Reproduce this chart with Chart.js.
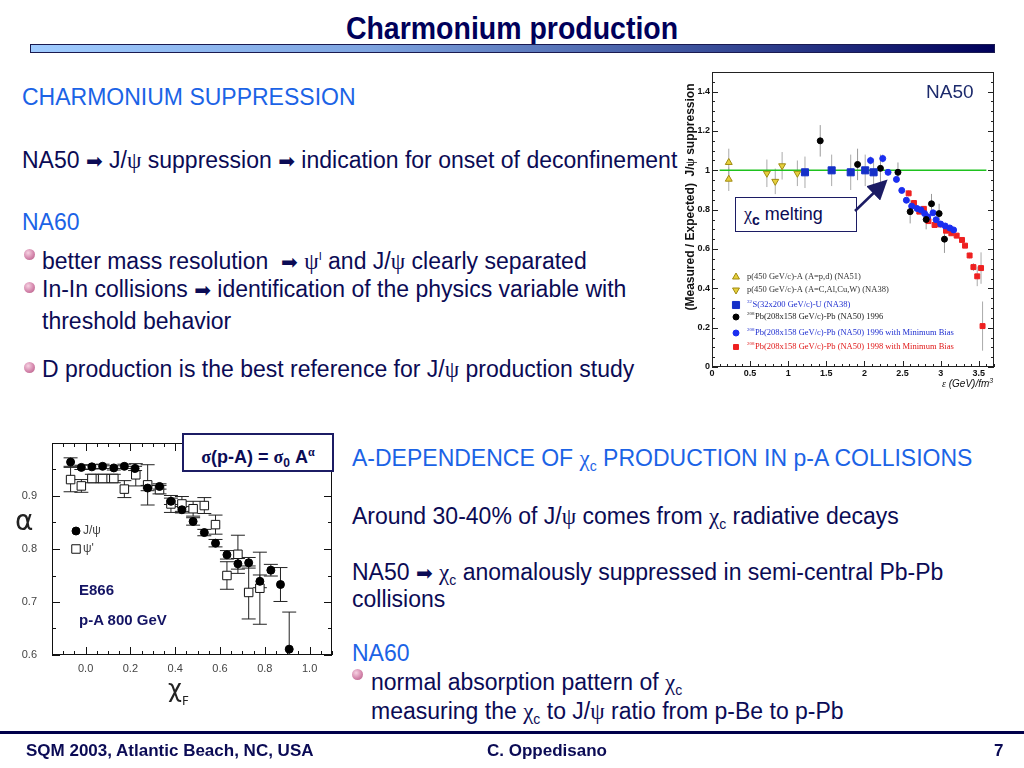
<!DOCTYPE html>
<html>
<head>
<meta charset="utf-8">
<script src="https://cdn.jsdelivr.net/npm/chart.js@4.4.0/dist/chart.umd.min.js"></script>
<style>
  body { margin:0; width:1024px; height:768px; background:#fff; position:relative; overflow:hidden;
         font-family:"Liberation Sans", Arial, sans-serif; }
  .abs { position:absolute; white-space:nowrap; line-height:26px; }
  .navy { color:#0b0b55; }
  .blue { color:#1b63e6; }
  .t20 { font-size:23px; }
  .sym { font-family:"Liberation Serif", "DejaVu Serif", serif; }
  .arr { font-family:"DejaVu Sans", sans-serif; font-size:20px; color:#0b0b55; }
  .sub { font-size:14px; position:relative; top:5px; }
  .ball { position:absolute; width:11px; height:11px; border-radius:50%;
          background:radial-gradient(circle at 38% 35%, #f6d2e2, #d486ac 55%, #b0587f); }
  .box { position:absolute; background:#fff; border:2px solid #1c1c64; box-sizing:border-box; }
</style>
</head>
<body>

<!-- titolo -->
<div class="abs" style="left:0;top:12px;width:1024px;text-align:center;font-weight:bold;font-size:32px;line-height:32px;color:#00005a;transform:scaleX(0.89);">Charmonium production</div>
<div style="position:absolute;left:30px;top:44px;width:965px;height:9px;border:1px solid #1a1a50;box-sizing:border-box;background:linear-gradient(to right,#a0ccff 0%,#7ea4e0 35%,#3a4f9a 70%,#00005a 100%);"></div>

<!-- testo sinistra -->
<div class="abs t20 blue" style="left:22px;top:84px;">CHARMONIUM SUPPRESSION</div>
<div class="abs t20 navy" style="left:22px;top:147px;">NA50 <span class="arr">➡</span> J/<span class="sym">ψ</span> suppression <span class="arr">➡</span> indication for onset of deconfinement</div>
<div class="abs t20 blue" style="left:22px;top:209px;">NA60</div>
<div class="ball" style="left:24px;top:249px;"></div>
<div class="abs t20 navy" style="left:42px;top:243px;">better mass resolution &nbsp;<span class="arr">➡</span> <span class="sym">ψ</span><sup style="font-size:11px;">I</sup> and J/<span class="sym">ψ</span> clearly separated</div>
<div class="ball" style="left:24px;top:282px;"></div>
<div class="abs t20 navy" style="left:42px;top:276px;">In-In collisions <span class="arr">➡</span> identification of the physics variable with</div>
<div class="abs t20 navy" style="left:42px;top:308px;">threshold behavior</div>
<div class="ball" style="left:24px;top:362px;"></div>
<div class="abs t20 navy" style="left:42px;top:356px;">D production is the best reference for J/<span class="sym">ψ</span> production study</div>

<!-- testo destra -->
<div class="abs t20 blue" style="left:352px;top:445px;">A-DEPENDENCE OF <span class="sym">χ</span><span class="sub">c</span> PRODUCTION IN p-A COLLISIONS</div>
<div class="abs t20 navy" style="left:352px;top:503px;">Around 30-40% of J/<span class="sym">ψ</span> comes from <span class="sym">χ</span><span class="sub">c</span> radiative decays</div>
<div class="abs t20 navy" style="left:352px;top:559px;">NA50 <span class="arr">➡</span> <span class="sym">χ</span><span class="sub">c</span> anomalously suppressed in semi-central Pb-Pb</div>
<div class="abs t20 navy" style="left:352px;top:586px;">collisions</div>
<div class="abs t20 blue" style="left:352px;top:640px;">NA60</div>
<div class="ball" style="left:352px;top:669px;"></div>
<div class="abs t20 navy" style="left:371px;top:669px;">normal absorption pattern of <span class="sym">χ</span><span class="sub">c</span></div>
<div class="abs t20 navy" style="left:371px;top:698px;">measuring the <span class="sym">χ</span><span class="sub">c</span> to J/<span class="sym">ψ</span> ratio from p-Be to p-Pb</div>

<!-- grafico NA50 -->
<div style="position:absolute;left:683px;top:66px;width:317px;height:316px;">
  <canvas id="graficoNA50" width="317" height="316"></canvas>
</div>
<div class="abs" style="left:565px;top:190px;width:250px;text-align:center;transform:rotate(-90deg);font-size:12px;font-weight:bold;line-height:14px;color:#111;">(Measured / Expected)&nbsp; J/<span class="sym">ψ</span> suppression</div>
<div class="abs" style="left:942px;top:375px;font-size:10px;line-height:12px;font-style:italic;color:#111;"><span class="sym">ε</span> (GeV)/fm<sup style="font-size:7px;">3</sup></div>
<div class="abs" style="left:926px;top:81px;font-size:19px;line-height:22px;color:#1c2a6c;">NA50</div>
<div class="box" style="left:735px;top:197px;width:122px;height:35px;border-width:1.5px;"></div>
<div class="abs navy" style="left:744px;top:201px;font-size:18px;"><span class="sym">χ</span><span class="sub" style="font-weight:bold;">c</span> melting</div>
<svg style="position:absolute;left:0;top:0;" width="1024" height="768">
  <defs><marker id="punta" markerWidth="8" markerHeight="8" refX="6" refY="4" orient="auto">
    <path d="M0,0 L8,4 L0,8 z" fill="#1c1c64"/></marker></defs>
  <line x1="855" y1="211" x2="884" y2="183" stroke="#1c1c64" stroke-width="2.5" marker-end="url(#punta)"/>
</svg>

<!-- grafico E866 -->
<div style="position:absolute;left:10px;top:435px;width:330px;height:245px;">
  <canvas id="graficoE866" width="330" height="245"></canvas>
</div>
<div class="abs" style="left:15px;top:506px;font-size:28px;line-height:30px;color:#222;font-family:'DejaVu Sans',sans-serif;">α</div>
<div class="abs" style="left:168px;top:676px;font-size:24px;line-height:26px;color:#222;font-family:'DejaVu Sans',sans-serif;">χ<span style="font-size:12px;position:relative;top:8px;">F</span></div>
<div class="abs" style="left:79px;top:577px;font-size:15px;font-weight:bold;color:#141464;">E866</div>
<div class="abs" style="left:79px;top:607px;font-size:15px;font-weight:bold;color:#141464;">p-A 800 GeV</div>
<div class="box" style="left:182px;top:433px;width:152px;height:39px;"></div>
<div class="abs" style="left:182px;top:439px;width:152px;text-align:center;font-size:18px;font-weight:bold;color:#0b0b55;"><span class="sym">σ</span>(p-A) = <span class="sym">σ</span><span style="font-size:12px;position:relative;top:4px;">0</span> A<sup style="font-size:12px;" class="sym">α</sup></div>

<!-- piè di pagina -->
<div style="position:absolute;left:0;top:731px;width:1024px;height:3px;background:#00004a;"></div>
<div class="abs" style="left:26px;top:738px;font-size:17px;font-weight:bold;color:#0b0b55;">SQM 2003, Atlantic Beach, NC, USA</div>
<div class="abs" style="left:487px;top:738px;font-size:17px;font-weight:bold;color:#0b0b55;">C. Oppedisano</div>
<div class="abs" style="left:994px;top:738px;font-size:17px;font-weight:bold;color:#0b0b55;">7</div>

<script>
// ============================================
// Charmonium — NA50 suppression + E866 alpha(xF)
// ============================================

// === DATI NA50 (epsilon, J/psi Measured/Expected) ===
const na51X   = [0.22, 0.22];
const na51Y   = [1.04, 0.955];
const na51Err = [0.07, 0.06];

const na38X   = [0.72, 0.83, 0.92, 1.12];
const na38Y   = [0.985, 0.944, 1.023, 0.985];
const na38Err = [0.07, 0.065, 0.07, 0.065];

const suX   = [1.22, 1.57, 1.82, 2.01, 2.12];
const suY   = [0.99, 1.0, 0.99, 1.0, 0.99];
const suErr = [0.08, 0.08, 0.09, 0.08, 0.07];

const pb96X   = [1.42, 1.91, 2.21, 2.44, 2.60, 2.81, 2.88, 2.98, 3.05];
const pb96Y   = [1.15, 1.03, 1.01, 0.99, 0.79, 0.75, 0.83, 0.78, 0.65];
const pb96Err = [0.08, 0.08, 0.07, 0.05, 0.06, 0.05, 0.05, 0.05, 0.07];

const pb96mbX   = [2.08, 2.24, 2.31, 2.42, 2.49, 2.55, 2.62, 2.69, 2.74, 2.79, 2.83, 2.90, 2.94, 3.00, 3.06, 3.12, 3.17];
const pb96mbY   = [1.05, 1.06, 0.99, 0.954, 0.898, 0.848, 0.818, 0.806, 0.799, 0.78, 0.764, 0.784, 0.749, 0.727, 0.717, 0.707, 0.697];
const pb96mbErr = [0.02, 0.02, 0.015, 0.015, 0.012, 0.012, 0.012, 0.012, 0.012, 0.012, 0.012, 0.012, 0.012, 0.012, 0.012, 0.012, 0.012];

const pb98X   = [2.58, 2.65, 2.72, 2.78, 2.84, 2.92, 2.99, 3.07, 3.14, 3.21, 3.28, 3.32, 3.38, 3.43, 3.48, 3.53, 3.55];
const pb98Y   = [0.883, 0.834, 0.79, 0.804, 0.742, 0.722, 0.725, 0.693, 0.68, 0.668, 0.646, 0.617, 0.567, 0.508, 0.461, 0.503, 0.208];
const pb98Err = [0.015, 0.012, 0.012, 0.012, 0.012, 0.012, 0.012, 0.012, 0.012, 0.012, 0.012, 0.012, 0.015, 0.02, 0.05, 0.08, 0.125];

const lineaX = [0.1, 3.6];
const lineaY = [1, 1];

const na50XTicks = [0, 0.5, 1, 1.5, 2, 2.5, 3, 3.5];
const na50YTicks = [0, 0.2, 0.4, 0.6, 0.8, 1, 1.2, 1.4];

const na50Labels = [
  { sup: '',    text: 'p(450 GeV/c)-A (A=p,d) (NA51)',                    color: '#333' },
  { sup: '',    text: 'p(450 GeV/c)-A (A=C,Al,Cu,W) (NA38)',              color: '#333' },
  { sup: '32',  text: 'S(32x200 GeV/c)-U (NA38)',                          color: '#1f2fd0' },
  { sup: '208', text: 'Pb(208x158 GeV/c)-Pb (NA50) 1996',                  color: '#222' },
  { sup: '208', text: 'Pb(208x158 GeV/c)-Pb (NA50) 1996 with Minimum Bias', color: '#1f2fd0' },
  { sup: '208', text: 'Pb(208x158 GeV/c)-Pb (NA50) 1998 with Minimum Bias', color: '#e01818' },
];

// === DATI E866 (xF, alpha) ===
const jpsiX   = [-0.067, -0.019, 0.028, 0.076, 0.126, 0.173, 0.221, 0.277, 0.330, 0.381, 0.430, 0.480, 0.530, 0.580, 0.631, 0.680, 0.728, 0.778, 0.827, 0.870, 0.909];
const jpsiY   = [0.964, 0.954, 0.955, 0.956, 0.953, 0.956, 0.952, 0.915, 0.918, 0.890, 0.874, 0.852, 0.831, 0.811, 0.789, 0.772, 0.774, 0.739, 0.760, 0.733, 0.611];
const jpsiErr = [0.008, 0.004, 0.004, 0.004, 0.004, 0.004, 0.004, 0.005, 0.005, 0.006, 0.006, 0.007, 0.006, 0.007, 0.008, 0.01, 0.01, 0.012, 0.011, 0.032, 0.07];

const psi2X   = [-0.067, -0.019, 0.028, 0.076, 0.126, 0.173, 0.224, 0.277, 0.330, 0.381, 0.430, 0.480, 0.530, 0.580, 0.631, 0.680, 0.728, 0.778];
const psi2Y   = [0.931, 0.919, 0.933, 0.933, 0.933, 0.913, 0.940, 0.921, 0.912, 0.885, 0.885, 0.876, 0.882, 0.846, 0.750, 0.790, 0.718, 0.726];
const psi2Err = [0.023, 0.012, 0.008, 0.008, 0.008, 0.016, 0.021, 0.038, 0.008, 0.016, 0.014, 0.014, 0.015, 0.018, 0.026, 0.036, 0.05, 0.068];

const e866XTicks = [0, 0.2, 0.4, 0.6, 0.8, 1.0];
const e866YTicks = [0.6, 0.7, 0.8, 0.9];
const e866Labels = ['J/ψ', 'ψ\''];

// === HELPERS ===
const punti = (xs, ys) => xs.map((x, i) => ({ x, y: ys[i] }));
const fmtNum = (v) => String(parseFloat(v.toFixed(2)));

// niente padding automatico: l'area del grafico resta dove la vogliamo
const fissa = (dim, size) => (s) => {
  s[dim] = size;
  s.paddingTop = 0; s.paddingBottom = 0; s.paddingLeft = 0; s.paddingRight = 0;
};

// barre d'errore verticali (con tacche opzionali)
const errorBarPlugin = {
  id: 'errorBars',
  beforeDatasetsDraw(chart) {
    const { ctx, chartArea: a, scales: { x, y } } = chart;
    ctx.save();
    ctx.beginPath();
    ctx.rect(a.left, a.top, a.right - a.left, a.bottom - a.top);
    ctx.clip();
    chart.data.datasets.forEach(ds => {
      if (!ds.errors) return;
      ctx.strokeStyle = ds.errorColor || '#888';
      ctx.lineWidth = ds.errorWidth || 1;
      ds.data.forEach((p, i) => {
        const e = ds.errors[i];
        if (!e) return;
        const px = x.getPixelForValue(p.x);
        const y1 = y.getPixelForValue(p.y + e);
        const y2 = y.getPixelForValue(p.y - e);
        ctx.beginPath();
        ctx.moveTo(px, y1); ctx.lineTo(px, y2);
        if (ds.cap) {
          ctx.moveTo(px - ds.cap, y1); ctx.lineTo(px + ds.cap, y1);
          ctx.moveTo(px - ds.cap, y2); ctx.lineTo(px + ds.cap, y2);
        }
        ctx.stroke();
      });
    });
    ctx.restore();
  }
};

// cornice con tacche verso l'interno
const framePlugin = {
  id: 'frame',
  beforeDatasetsDraw(chart, args, o) {
    const { ctx, chartArea: a, scales: { x, y } } = chart;
    ctx.save();
    ctx.strokeStyle = o.color || '#000';
    ctx.lineWidth = 1;
    ctx.strokeRect(a.left + 0.5, a.top + 0.5, a.right - a.left - 1, a.bottom - a.top - 1);
    const tacche = (scale, step, len, horiz) => {
      for (let k = Math.ceil(scale.min / step - 1e-6); k * step <= scale.max + 1e-6; k++) {
        const p = Math.round(scale.getPixelForValue(k * step)) + 0.5;
        ctx.beginPath();
        if (horiz) {
          ctx.moveTo(p, a.bottom); ctx.lineTo(p, a.bottom - len);
          if (o.top) { ctx.moveTo(p, a.top); ctx.lineTo(p, a.top + len); }
        } else {
          ctx.moveTo(a.left, p); ctx.lineTo(a.left + len, p);
          ctx.moveTo(a.right, p); ctx.lineTo(a.right - len, p);
        }
        ctx.stroke();
      }
    };
    tacche(x, o.xMajor, o.len, true);
    tacche(x, o.xMinor, o.len / 2, true);
    tacche(y, o.yMajor, o.len, false);
    tacche(y, o.yMinor, o.len / 2, false);
    ctx.restore();
  }
};

// legenda disegnata dentro il grafico NA50
const legendaNA50 = {
  id: 'legendaNA50',
  afterDatasetsDraw(chart, args, o) {
    const ctx = chart.ctx;
    ctx.save();
    o.labels.forEach((l, i) => {
      const ds = chart.data.datasets[i];
      const yy = o.rows[i];
      ctx.fillStyle = ds.backgroundColor;
      ctx.strokeStyle = ds.borderColor;
      ctx.lineWidth = 1;
      Chart.helpers.drawPoint(ctx, {
        pointStyle: ds.pointStyle, radius: ds.pointRadius, rotation: ds.rotation || 0,
        borderWidth: 1
      }, o.x, yy);
      let tx = o.x + 11;
      ctx.fillStyle = l.color;
      ctx.textBaseline = 'middle';
      if (l.sup) {
        ctx.font = '5px "Liberation Serif"';
        ctx.fillText(l.sup, tx, yy - 3);
        tx += ctx.measureText(l.sup).width + 0.5;
      }
      ctx.font = '8.5px "Liberation Serif"';
      ctx.fillText(l.text, tx, yy);
    });
    ctx.restore();
  }
};

// legenda E866
const legendaE866 = {
  id: 'legendaE866',
  afterDatasetsDraw(chart, args, o) {
    const ctx = chart.ctx;
    ctx.save();
    o.labels.forEach((l, i) => {
      const ds = chart.data.datasets[i];
      const yy = o.rows[i];
      ctx.fillStyle = ds.backgroundColor;
      ctx.strokeStyle = ds.borderColor;
      ctx.lineWidth = 1;
      Chart.helpers.drawPoint(ctx, { pointStyle: ds.pointStyle, radius: ds.pointRadius, borderWidth: 1 }, o.x, yy);
      ctx.fillStyle = '#444';
      ctx.font = '12px "Liberation Sans"';
      ctx.textBaseline = 'middle';
      ctx.fillText(l, o.x + 7, yy);
    });
    ctx.restore();
  }
};

// === GRAFICO NA50 ===
function renderNA50() {
  const ctx = document.getElementById('graficoNA50').getContext('2d');
  const tickFont = { family: '"Liberation Sans"', size: 9, weight: 'bold' };
  new Chart(ctx, {
    type: 'scatter',
    data: {
      datasets: [
        { data: punti(na51X, na51Y), errors: na51Err, errorColor: '#aaa',
          pointStyle: 'triangle', pointRadius: 4, backgroundColor: '#e6cf3c', borderColor: '#a08a10', borderWidth: 1 },
        { data: punti(na38X, na38Y), errors: na38Err, errorColor: '#aaa',
          pointStyle: 'triangle', rotation: 180, pointRotation: 180, pointRadius: 4, backgroundColor: '#e6cf3c', borderColor: '#a08a10', borderWidth: 1 },
        { data: punti(suX, suY), errors: suErr, errorColor: '#aaa',
          pointStyle: 'rect', pointRadius: 5, backgroundColor: '#1530c8', borderColor: '#1530c8', borderWidth: 1 },
        { data: punti(pb96X, pb96Y), errors: pb96Err, errorColor: '#999',
          pointStyle: 'circle', pointRadius: 3, backgroundColor: '#000', borderColor: '#000', borderWidth: 1 },
        { data: punti(pb96mbX, pb96mbY), errors: pb96mbErr, errorColor: '#99a',
          pointStyle: 'circle', pointRadius: 3, backgroundColor: '#1a2ef0', borderColor: '#1a2ef0', borderWidth: 1 },
        { data: punti(pb98X, pb98Y), errors: pb98Err, errorColor: '#aaa',
          pointStyle: 'rect', pointRadius: 3.5, backgroundColor: '#ee2020', borderColor: '#ee2020', borderWidth: 1 },
        { type: 'line', data: punti(lineaX, lineaY), borderColor: '#1ec21e', borderWidth: 1.5,
          pointRadius: 0, fill: false, order: 10 },
      ]
    },
    options: {
      responsive: false,
      animation: false,
      layout: { padding: { top: 4, right: 3, left: 0, bottom: 0 } },
      plugins: {
        legend: { display: false },
        tooltip: { enabled: false },
        frame: { xMajor: 0.5, xMinor: 0.1, yMajor: 0.2, yMinor: 0.05, len: 6, color: '#222' },
        legendaNA50: { labels: na50Labels, x: 53, rows: [211, 224, 239, 251, 267, 281] },
      },
      scales: {
        x: {
          type: 'linear', min: 0, max: 3.7,
          grid: { display: false, drawTicks: false }, border: { display: false },
          afterBuildTicks: s => { s.ticks = na50XTicks.map(v => ({ value: v })); },
          afterFit: fissa('height', 15),
          ticks: { padding: 1, color: '#111', font: tickFont, maxRotation: 0, autoSkip: false, callback: fmtNum }
        },
        y: {
          type: 'linear', min: 0, max: 1.5,
          grid: { display: false, drawTicks: false }, border: { display: false },
          afterBuildTicks: s => { s.ticks = na50YTicks.map(v => ({ value: v })); },
          afterFit: fissa('width', 29),
          ticks: { padding: 2, color: '#111', font: tickFont, autoSkip: false, callback: fmtNum }
        }
      }
    },
    plugins: [framePlugin, errorBarPlugin, legendaNA50]
  });
}

// === GRAFICO E866 ===
function renderE866() {
  const ctx = document.getElementById('graficoE866').getContext('2d');
  const tickFont = { family: '"Liberation Sans"', size: 11 };
  new Chart(ctx, {
    type: 'scatter',
    data: {
      datasets: [
        { data: punti(jpsiX, jpsiY), errors: jpsiErr, errorColor: '#222', cap: 7,
          pointStyle: 'circle', pointRadius: 4, backgroundColor: '#000', borderColor: '#000', borderWidth: 1 },
        { data: punti(psi2X, psi2Y), errors: psi2Err, errorColor: '#222', cap: 7,
          pointStyle: 'rect', pointRadius: 6, backgroundColor: '#fff', borderColor: '#111', borderWidth: 1 },
      ]
    },
    options: {
      responsive: false,
      animation: false,
      layout: { padding: { top: 8, right: 8, left: 0, bottom: 0 } },
      plugins: {
        legend: { display: false },
        tooltip: { enabled: false },
        frame: { xMajor: 0.2, xMinor: 0.05, yMajor: 0.1, yMinor: 0.05, len: 8, color: '#111', top: true },
        legendaE866: { labels: e866Labels, x: 66, rows: [96, 114] },
      },
      scales: {
        x: {
          type: 'linear', min: -0.15, max: 1.1,
          grid: { display: false, drawTicks: false }, border: { display: false },
          afterBuildTicks: s => { s.ticks = e866XTicks.map(v => ({ value: v })); },
          afterFit: fissa('height', 25),
          ticks: { padding: 7, color: '#444', font: tickFont, maxRotation: 0, autoSkip: false,
                   callback: v => v.toFixed(1) }
        },
        y: {
          type: 'linear', min: 0.6, max: 1.0,
          grid: { display: false, drawTicks: false }, border: { display: false },
          afterBuildTicks: s => { s.ticks = e866YTicks.map(v => ({ value: v })); },
          afterFit: fissa('width', 42),
          ticks: { padding: 15, color: '#444', font: tickFont, autoSkip: false,
                   callback: v => v.toFixed(1) }
        }
      }
    },
    plugins: [framePlugin, errorBarPlugin, legendaE866]
  });
}

// === INIT ===
renderNA50();
renderE866();
</script>
</body>
</html>
